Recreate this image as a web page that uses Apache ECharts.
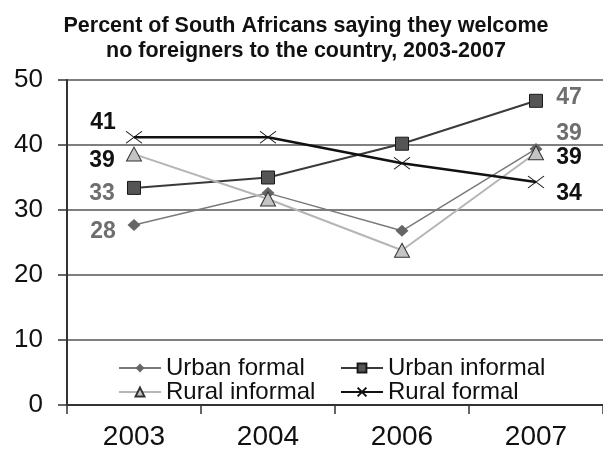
<!DOCTYPE html>
<html>
<head>
<meta charset="utf-8">
<script src="https://cdn.jsdelivr.net/npm/echarts@6/dist/echarts.min.js"></script>
<style>
html,body{margin:0;padding:0;background:#fff;}
#chart{width:603px;height:454px;}
</style>
</head>
<body>
<div id="chart"></div>
<script>
// ---- data ----
var titleText = 'Percent of South Africans saying they welcome\nno foreigners to the country, 2003-2007';
var categories = ['2003', '2004', '2006', '2007'];
var yTicks = [0, 10, 20, 30, 40, 50];
var seriesNames = ['Urban formal', 'Urban informal', 'Rural informal', 'Rural formal'];
var urbanFormal   = [27.7, 32.6, 26.8, 39.4];
var urbanInformal = [33.4, 35.0, 40.2, 46.8];
var ruralInformal = [38.6, 31.7, 23.8, 38.8];
var ruralFormal   = [41.2, 41.2, 37.2, 34.3];

// ---- styles ----
var FONT = 'Liberation Sans, Arial, sans-serif';
var styles = [
  {line:'#7a7a7a', width:1.5, symbol:'diamond', size:[13,12], fill:'#666666', border:'#666666', bw:0,
   labelColor:'#6e6e6e', first:[-31,7], last:[33,-15]},
  {line:'#3a3a3a', width:2, symbol:'rect', size:13, fill:'#555555', border:'#1a1a1a', bw:1,
   labelColor:'#6e6e6e', first:[-32,6], last:[33,-3]},
  {line:'#b5b5b5', width:2, symbol:'triangle', size:[15,14], fill:'#c4c4c4', border:'#333333', bw:1,
   labelColor:'#111111', first:[-32,7], last:[33,5]},
  {line:'#111111', width:2.5, symbol:'path://M0,0L10,10M10,0L0,10', size:[16,12], fill:'#111111', border:'#111111', bw:1,
   labelColor:'#111111', first:[-31,-15], last:[33,12]}
];
var values = [urbanFormal, urbanInformal, ruralInformal, ruralFormal];

function buildData(vals, st) {
  return vals.map(function (v, i) {
    var isFirst = i === 0, isLast = i === vals.length - 1;
    return {
      value: v,
      label: {
        show: isFirst || isLast,
        position: 'inside',
        offset: isFirst ? st.first : st.last,
        formatter: function (p) { return Math.round(p.value); },
        color: st.labelColor,
        fontFamily: FONT,
        fontWeight: 'bold',
        fontSize: 23
      }
    };
  });
}

var series = seriesNames.map(function (name, k) {
  var st = styles[k];
  return {
    name: name,
    type: 'line',
    data: buildData(values[k], st),
    symbol: st.symbol,
    symbolSize: st.size,
    z: k === 3 ? 5 : 3,
    lineStyle: {color: st.line, width: st.width},
    itemStyle: {color: st.fill, borderColor: st.border, borderWidth: st.bw},
    emphasis: {disabled: true},
    animation: false
  };
});

var legendCommon = {
  orient: 'vertical',
  padding: 0,
  itemWidth: 42,
  itemHeight: 11,
  itemGap: 0,
  textStyle: {fontFamily: FONT, fontSize: 24, color: '#111', lineHeight: 24}
};

var option = {
  backgroundColor: '#ffffff',
  animation: false,
  title: {
    text: titleText,
    left: 306,
    top: 14,
    textAlign: 'center',
    padding: 0,
    textStyle: {fontFamily: FONT, fontWeight: 'bold', fontSize: 21.5, lineHeight: 25, color: '#111'}
  },
  legend: [
    Object.assign({}, legendCommon, {data: [seriesNames[0], seriesNames[2]], left: 118, top: 356}),
    Object.assign({}, legendCommon, {data: [seriesNames[1], seriesNames[3]], left: 340, top: 356})
  ],
  grid: {left: 67, right: 0, top: 80, bottom: 49, containLabel: false},
  xAxis: {
    type: 'category',
    data: categories,
    boundaryGap: true,
    axisLine: {lineStyle: {color: '#333', width: 2}},
    axisTick: {show: true, length: 9, lineStyle: {color: '#333', width: 1.5}},
    axisLabel: {fontFamily: FONT, fontSize: 28, color: '#111', margin: 18},
    splitLine: {show: false}
  },
  yAxis: {
    type: 'value',
    min: yTicks[0],
    max: yTicks[yTicks.length - 1],
    interval: yTicks[1] - yTicks[0],
    axisLine: {show: true, lineStyle: {color: '#333', width: 2}},
    axisTick: {show: true, length: 9, lineStyle: {color: '#333', width: 1.5}},
    axisLabel: {fontFamily: FONT, fontSize: 26, color: '#111', margin: 24},
    splitLine: {show: true, lineStyle: {color: '#555', width: 1.5}}
  },
  series: series
};

var chart = echarts.init(document.getElementById('chart'), null, {renderer: 'canvas'});
chart.setOption(option);
</script>
</body>
</html>
